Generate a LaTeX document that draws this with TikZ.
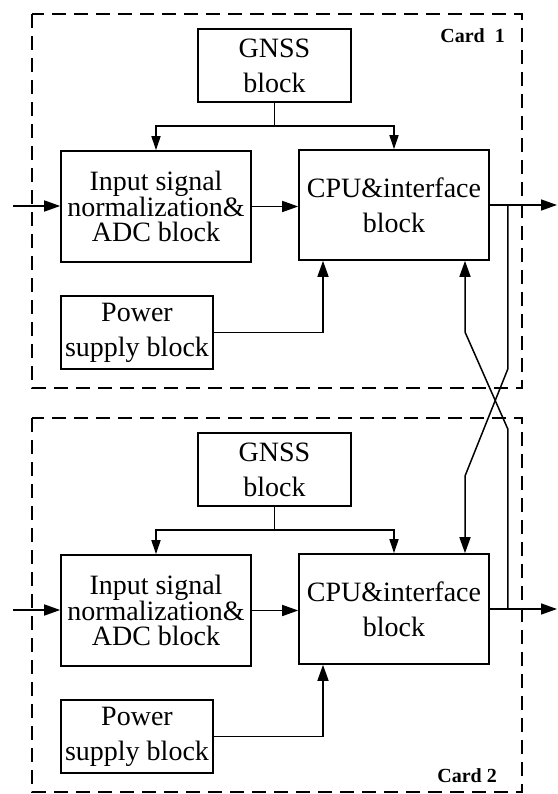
\documentclass[tikz,border=0pt]{standalone}
\usepackage{fontspec}
\setmainfont{Liberation Serif}
\usetikzlibrary{arrows.meta}

\begin{document}
\begin{tikzpicture}[
  x={(1pt,0pt)},
  y={(0pt,-1pt)},
  >={Triangle[length=16pt,width=11pt]},
  line join=miter,
  block/.style={draw,line width=1.6pt,inner sep=0pt,align=center,
    font=\fontsize{28}{35}\selectfont},
  link/.style={line width=1.5pt},
  small/.style={-{Triangle[length=14pt,width=9pt]}},
  card/.style={draw,line width=2.6pt,dash pattern=on 14pt off 8pt},
  lbl/.style={inner sep=0pt,font=\fontsize{20}{24}\selectfont\bfseries}
]
  \useasboundingbox[fill=white] (0,0) rectangle (557,794);

  \foreach \i/\dy in {1/0,2/404} {
    \draw[card] (32,14+\dy) rectangle (522,388+\dy);

    \node[block,minimum width=153,minimum height=73] (gnss\i)
      at (274.5,65.5+\dy) {GNSS\\block};
    \node[block,minimum width=190,minimum height=111,
      font=\fontsize{28}{25.5}\selectfont] (adc\i)
      at (156,206.5+\dy) {Input signal\\normalization\&\\ADC block};
    \node[block,minimum width=190,minimum height=110] (cpu\i)
      at (394,205+\dy) {CPU\&interface\\block};
    \node[block,minimum width=152,minimum height=73] (pwr\i)
      at (137,332.5+\dy) {Power\\supply block};

    \coordinate (in\i) at (13,206+\dy);
    \coordinate (out\i) at (557,205+\dy);
    \coordinate (fork\i) at (274.5,126+\dy);

    \draw[link,->] (in\i) -- (in\i -| adc\i.west);
    \draw[link,->] (adc\i.east) -- (adc\i.east -| cpu\i.west);
    \draw[link,->] (cpu\i.east) -- (out\i);
    \draw[link] (gnss\i.south) -- (fork\i);
    \draw[link,small] (fork\i) -| (adc\i.north);
    \draw[link,small] (fork\i) -| (cpu\i.north);
    \draw[link,->] (pwr\i.east) -| ([xshift=-71pt]cpu\i.south);
  }

  % links between the two cards
  \draw[link,->] ([xshift=18pt]cpu1.east) -- ++(0,164) -- (465,476)
    -- ([xshift=71pt]cpu2.north);
  \draw[link,->] ([xshift=18pt]cpu2.east) -- ++(0,-180) -- (465,332)
    -- ([xshift=71pt]cpu1.south);

  \node[lbl,anchor=east] (card1) at (505,36) {Card\ \ 1};
  \node[lbl,anchor=east] (card2) at (497,776) {Card 2};
\end{tikzpicture}
\end{document}
